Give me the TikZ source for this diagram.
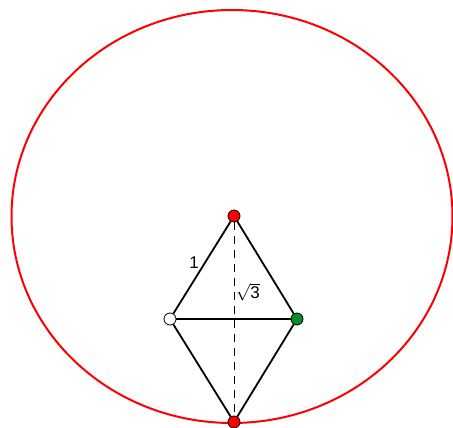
\documentclass[tikz,border=0pt]{standalone}
\usepackage{fontspec}
\setmainfont{Liberation Sans}
\usepackage{tikz}
\usepackage{xcolor}
\usetikzlibrary{positioning}
\definecolor{dotRed}{HTML}{FF0000}
\definecolor{dotGreen}{HTML}{0A8A2A}

\begin{document}
\begin{tikzpicture}[x=1pt,y=-1pt,
    font=\fontsize{17}{20}\selectfont,
    dot/.style={circle,draw=black,line width=0.8pt,
                minimum size=12pt,inner sep=0pt},
    side/.style={line width=1.8pt,black},
    height/.style={line width=0.9pt,dash pattern=on 8pt off 6pt}]
    \useasboundingbox (0,0) rectangle (453,428);
    % circle through the lower vertex
    \draw[dotRed,line width=2pt] (232,216.5) ellipse [x radius=220.5, y radius=206.5];
    \node[dot,fill=dotRed]   (top)   at (234,216) {};
    \node[dot,fill=white]    (left)  at (170,319) {};
    \node[dot,fill=dotGreen] (right) at (297,319) {};
    \node[dot,fill=dotRed]   (bot)   at (234,422) {};
    \draw[side] (top) -- (left) -- (bot) -- (right) -- (top);
    \draw[line width=1.4pt] (left) -- (right);
    \draw[height] (top) -- (bot);
    \node (one) at (194,263) {1};
    \node (root) at (248,292) {$\sqrt{\mathrm{3}}$};
  \end{tikzpicture}
\end{document}
